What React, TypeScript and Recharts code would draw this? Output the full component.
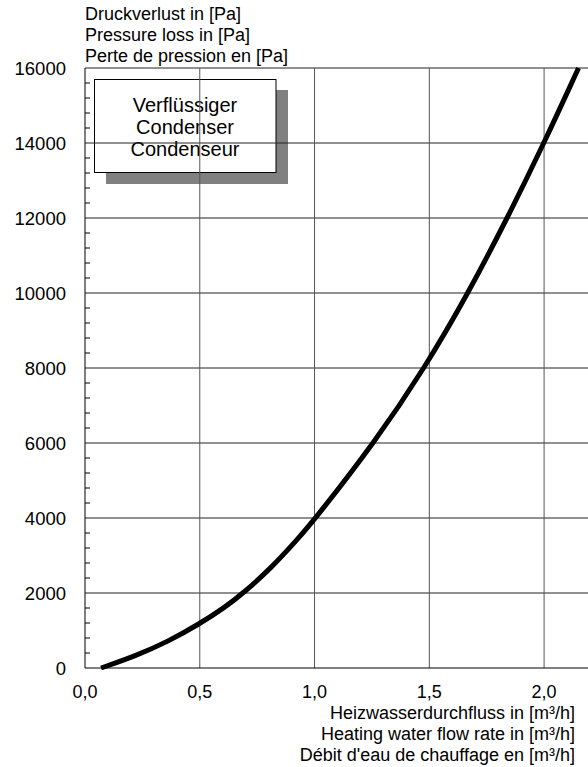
import React from 'react';
import { LineChart, Line, XAxis, YAxis, ReferenceLine, Customized } from 'recharts';

const flowRate = [0.07, 0.22, 0.36, 0.5, 0.61, 0.69, 0.81, 0.93, 1.0, 1.26, 1.48, 1.67, 1.84, 2.0, 2.15];
const pressureLoss = [0, 320, 700, 1180, 1620, 2000, 2660, 3460, 3960, 6000, 8000, 10000, 12000, 14000, 16000];

const xTicks = [0, 0.5, 1.0, 1.5, 2.0];
const yMajorTicks = [0, 2000, 4000, 6000, 8000, 10000, 12000, 14000, 16000];
const yMinorStep = 400;
const yTicks = Array.from({ length: 16000 / yMinorStep + 1 }, (_, i) => i * yMinorStep);

const yTitle = ['Druckverlust in [Pa]', 'Pressure loss in [Pa]', 'Perte de pression en [Pa]'];
const xTitle = ['Heizwasserdurchfluss in [m³/h]', 'Heating water flow rate in [m³/h]', "Débit d'eau de chauffage en [m³/h]"];
const boxLines = ['Verflüssiger', 'Condenser', 'Condenseur'];

const data = flowRate.map((q, i) => ({ q, dp: pressureLoss[i] }));

const FONT = '"Liberation Sans", Arial, sans-serif';
const Y_LABEL_GAP = 19;

const YTick = (props: any) => {
    const { x, y, payload } = props;
    const axisX = x + Y_LABEL_GAP;
    if (payload.value % 2000 === 0) {
        return (
            <text x={x} y={y} textAnchor="end" dominantBaseline="central" fontSize={18.5} fontFamily={FONT} fill="#000">
                {payload.value}
            </text>
        );
    }
    return <line x1={axisX} x2={axisX + 5} y1={y} y2={y} stroke="#000" strokeWidth={1} />;
};

const Decorations = () => (
    <g fontFamily={FONT} fontSize={18} fill="#000">
        {yTitle.map((t, i) => (
            <text key={t} x={85} y={20 + i * 21} textAnchor="start">{t}</text>
        ))}
        {xTitle.map((t, i) => (
            <text key={t} x={575} y={719 + i * 21} textAnchor="end">{t}</text>
        ))}
        <rect x={106} y={90} width={182} height={94} fill="#808080" />
        <rect x={94.5} y={79.5} width={181.5} height={93} fill="#fff" stroke="#000" strokeWidth={1} />
        {boxLines.map((t, i) => (
            <text key={t} x={185} y={112 + i * 22} textAnchor="middle" fontSize={20}>{t}</text>
        ))}
    </g>
);

export default function App() {
    return (
        <div style={{ position: 'absolute', left: 0, top: 0, width: 588, height: 767, overflow: 'hidden', background: '#fff' }}>
            <LineChart width={590} height={767} data={data} margin={{ top: 68, right: 0, left: 0, bottom: 0 }}>
                <XAxis
                    dataKey="q"
                    type="number"
                    domain={[0, 2.2]}
                    ticks={xTicks}
                    tickFormatter={(v: number) => v.toFixed(1).replace('.', ',')}
                    tickLine={false}
                    tickSize={0}
                    tickMargin={17}
                    height={99}
                    axisLine={{ stroke: '#000' }}
                    tick={{ fill: '#000', fontSize: 18, fontFamily: FONT }}
                    allowDataOverflow
                />
                <YAxis
                    type="number"
                    domain={[0, 16000]}
                    ticks={yTicks}
                    interval={0}
                    tickLine={false}
                    tickSize={0}
                    tickMargin={Y_LABEL_GAP}
                    width={85}
                    axisLine={{ stroke: '#000' }}
                    tick={<YTick />}
                />
                {yMajorTicks.slice(1).map((v) => (
                    <ReferenceLine key={`h${v}`} y={v} stroke="#222" strokeWidth={1} />
                ))}
                {xTicks.slice(1).map((v) => (
                    <ReferenceLine key={`v${v}`} x={v} stroke="#555" strokeWidth={1} />
                ))}
                <Line
                    dataKey="dp"
                    type="basis"
                    stroke="#000"
                    strokeWidth={5}
                    dot={false}
                    isAnimationActive={false}
                />
                <Customized component={Decorations} />
            </LineChart>
        </div>
    );
}
